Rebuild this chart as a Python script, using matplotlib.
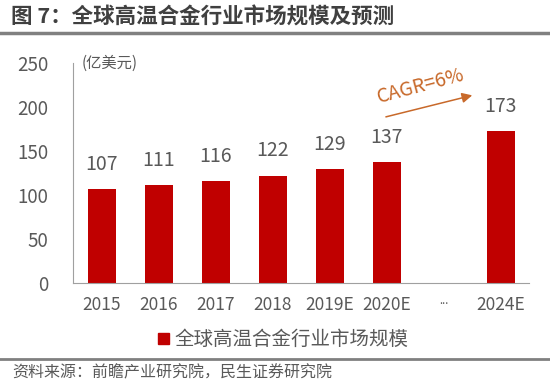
import matplotlib.pyplot as plt
from matplotlib.patches import Patch

plt.rcParams['font.family'] = ['Noto Sans CJK SC', 'DejaVu Sans']

years = ['2015', '2016', '2017', '2018', '2019E', '2020E', '...', '2024E']
market = [107, 111, 116, 122, 129, 137, None, 173]
series_name = '全球高温合金行业市场规模'
title = '图 7：全球高温合金行业市场规模及预测'
source = '资料来源：前瞻产业研究院，民生证券研究院'

RED = '#C00000'
GRAY = '#595959'
ORANGE = '#C8692A'

fig = plt.figure(figsize=(5.5, 3.84), dpi=100)
ax = fig.add_axes([0.133, 0.263, 0.829, 0.573])

xs = [i for i, v in enumerate(market) if v is not None]
vals = [v for v in market if v is not None]
ax.bar(xs, vals, width=0.49, color=RED)
for x, v in zip(xs, vals):
    ax.text(x, v + 28, str(v), ha='center', va='center', fontsize=14, color=GRAY)

ax.set_xlim(-0.5, len(years) - 0.5)
ax.set_ylim(0, 250)
ax.set_yticks(range(0, 251, 50))
ax.set_xticks(range(len(years)))
ax.set_xticklabels(years)
for lab in ax.get_xticklabels():
    lab.set_fontsize(8 if lab.get_text() == '...' else 12.5)
    lab.set_color(GRAY)
ax.tick_params(axis='y', labelsize=13.5, labelcolor=GRAY, length=0, pad=18)
ax.tick_params(axis='x', length=0, pad=9)
for s in ['top', 'right']:
    ax.spines[s].set_visible(False)
for s in ['left', 'bottom']:
    ax.spines[s].set_color('#A0A0A0')

ax.text(0.018, 1.0, '(亿美元)', transform=ax.transAxes, fontsize=11,
        color=GRAY, va='center', ha='left')

ax.annotate('', xy=(6.55, 214), xytext=(4.94, 188),
            arrowprops=dict(arrowstyle='-|>', color=ORANGE, lw=1.1, mutation_scale=15))
ax.text(5.6, 224, 'CAGR=6%', rotation=15, color=ORANGE, fontsize=14,
        ha='center', va='center')

fig.legend(handles=[Patch(color=RED, label=series_name)], loc='center',
           bbox_to_anchor=(0.515, 0.115), frameon=False, fontsize=14,
           handlelength=0.55, handleheight=0.55, handletextpad=0.3,
           labelcolor=GRAY)

fig.text(0.02, 0.956, title, fontsize=15.5, fontweight='bold', color='#404040',
         va='center', ha='left')
fig.add_artist(plt.Line2D([0, 1], [0.914, 0.914], color='#808080', lw=2.5))
fig.add_artist(plt.Line2D([0, 1], [0.065, 0.065], color='#808080', lw=2))
fig.text(0.022, 0.03, source, fontsize=11.5, color=GRAY, va='center', ha='left')

fig.savefig('out.png', dpi=100)
